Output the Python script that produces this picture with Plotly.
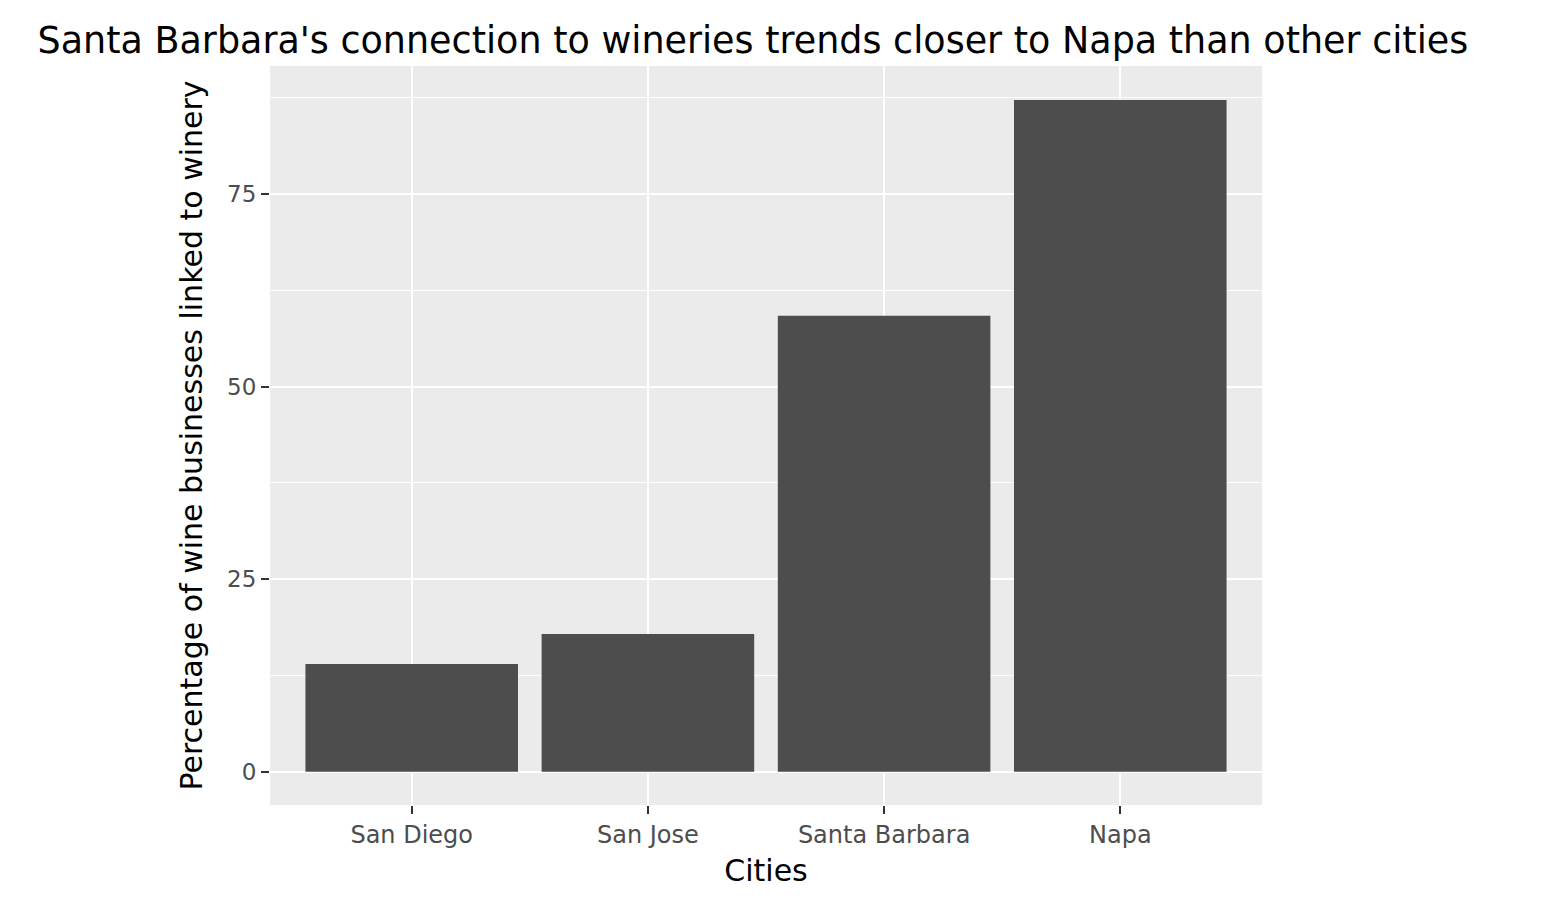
import plotly.graph_objects as go

# data
cities = ["San Diego", "San Jose", "Santa Barbara", "Napa"]
pct_winery = [14.0, 17.9, 59.2, 87.2]
y_ticks = [0, 25, 50, 75]

fig = go.Figure()
fig.add_trace(go.Bar(x=cities, y=pct_winery, marker_color="#4d4d4d",
                     marker_line_width=0, width=0.9))

# minor gridlines at half steps
minor = [12.5, 37.5, 62.5, 87.5]

fig.update_layout(
    width=1554, height=914,
    paper_bgcolor="white", plot_bgcolor="#ebebeb",
    font=dict(family="DejaVu Sans", color="black"),
    title=dict(text="Santa Barbara's connection to wineries trends closer to Napa than other cities",
               x=0.019, xanchor="left", y=0.965, yanchor="middle", font=dict(size=36.5)),
    margin=dict(l=262, r=300, t=58, b=117),
    showlegend=False, bargap=0.1,
)
fig.update_xaxes(title=dict(text="Cities", font=dict(size=30), standoff=12),
                 tickfont=dict(size=24, color="#4d4d4d"),
                 showgrid=True, gridcolor="white", gridwidth=2,
                 ticks="outside", ticklen=8, tickcolor="#333", tickwidth=2,
                 range=[-0.6, 3.6])
fig.update_yaxes(title=dict(text="Percentage of wine businesses linked to winery", font=dict(size=30)),
                 tickfont=dict(size=23, color="#4d4d4d"),
                 tickvals=y_ticks, range=[-4.3, 91.6],
                 showgrid=True, gridcolor="white", gridwidth=2, zeroline=False,
                 ticks="outside", ticklen=8, tickcolor="#333", tickwidth=2,
                 minor=dict(tickvals=minor, showgrid=True, gridcolor="white", gridwidth=1, ticks=""))

fig.write_html("out.html")
